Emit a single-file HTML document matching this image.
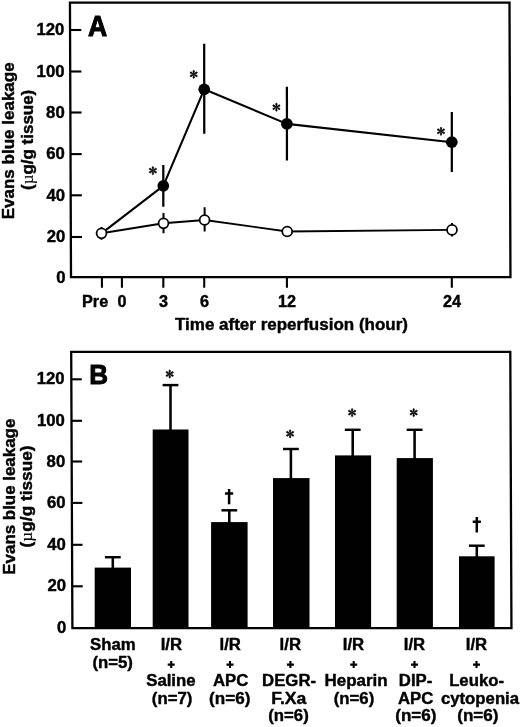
<!DOCTYPE html>
<html><head><meta charset="utf-8"><title>Figure</title>
<style>
html,body{margin:0;padding:0;background:#fff;}
body{width:520px;height:727px;overflow:hidden;font-family:"Liberation Sans",sans-serif;}
svg{display:block;will-change:transform;opacity:0.999;}
</style></head><body>
<svg width="520" height="727" viewBox="0 0 520 727">
<defs><filter id="soft" x="0" y="0" width="520" height="727" filterUnits="userSpaceOnUse"><feGaussianBlur stdDeviation="0.5"/></filter></defs>
<rect width="520" height="727" fill="#fff"/>
<g filter="url(#soft)">
<rect width="520" height="727" fill="#fff"/>
<path d="M71.0,277.1 L69.95,2.6 L509.5,2.6 L510.45,277.1 Z" fill="none" stroke="#000" stroke-width="2.3"/>
<line x1="70.84" x2="82.04" y1="237.00" y2="237.00" stroke="#000" stroke-width="2.1"/>
<line x1="70.68" x2="81.88" y1="195.30" y2="195.30" stroke="#000" stroke-width="2.1"/>
<line x1="70.53" x2="81.73" y1="154.10" y2="154.10" stroke="#000" stroke-width="2.1"/>
<line x1="70.37" x2="81.57" y1="112.50" y2="112.50" stroke="#000" stroke-width="2.1"/>
<line x1="70.21" x2="81.41" y1="71.50" y2="71.50" stroke="#000" stroke-width="2.1"/>
<line x1="70.05" x2="81.25" y1="30.00" y2="30.00" stroke="#000" stroke-width="2.1"/>
<text transform="translate(65.44,282.50) scale(1.02,1)" text-anchor="end" font-size="16.4" font-family="Liberation Sans, sans-serif" font-weight="bold" stroke="#000" stroke-width="0.42" stroke-linejoin="round">0</text>
<text transform="translate(65.25,242.30) scale(1.02,1)" text-anchor="end" font-size="16.4" font-family="Liberation Sans, sans-serif" font-weight="bold" stroke="#000" stroke-width="0.42" stroke-linejoin="round">20</text>
<text transform="translate(65.06,200.60) scale(1.02,1)" text-anchor="end" font-size="16.4" font-family="Liberation Sans, sans-serif" font-weight="bold" stroke="#000" stroke-width="0.42" stroke-linejoin="round">40</text>
<text transform="translate(64.87,159.40) scale(1.02,1)" text-anchor="end" font-size="16.4" font-family="Liberation Sans, sans-serif" font-weight="bold" stroke="#000" stroke-width="0.42" stroke-linejoin="round">60</text>
<text transform="translate(64.68,117.80) scale(1.02,1)" text-anchor="end" font-size="16.4" font-family="Liberation Sans, sans-serif" font-weight="bold" stroke="#000" stroke-width="0.42" stroke-linejoin="round">80</text>
<text transform="translate(64.49,76.80) scale(1.02,1)" text-anchor="end" font-size="16.4" font-family="Liberation Sans, sans-serif" font-weight="bold" stroke="#000" stroke-width="0.42" stroke-linejoin="round">100</text>
<text transform="translate(64.30,35.30) scale(1.02,1)" text-anchor="end" font-size="16.4" font-family="Liberation Sans, sans-serif" font-weight="bold" stroke="#000" stroke-width="0.42" stroke-linejoin="round">120</text>
<line x1="101.90" x2="101.94" y1="277.1" y2="287.8" stroke="#000" stroke-width="2.1"/>
<text transform="translate(95.1,306.5) scale(0.985,1)" text-anchor="middle" font-size="16.5" font-family="Liberation Sans, sans-serif" font-weight="bold" stroke="#000" stroke-width="0.42" stroke-linejoin="round">Pre</text>
<line x1="121.90" x2="121.94" y1="277.1" y2="287.8" stroke="#000" stroke-width="2.1"/>
<text transform="translate(122.10,306.5) scale(0.985,1)" text-anchor="middle" font-size="16.5" font-family="Liberation Sans, sans-serif" font-weight="bold" stroke="#000" stroke-width="0.42" stroke-linejoin="round">0</text>
<line x1="163.30" x2="163.34" y1="277.1" y2="287.8" stroke="#000" stroke-width="2.1"/>
<text transform="translate(163.50,306.5) scale(0.985,1)" text-anchor="middle" font-size="16.5" font-family="Liberation Sans, sans-serif" font-weight="bold" stroke="#000" stroke-width="0.42" stroke-linejoin="round">3</text>
<line x1="204.20" x2="204.24" y1="277.1" y2="287.8" stroke="#000" stroke-width="2.1"/>
<text transform="translate(204.40,306.5) scale(0.985,1)" text-anchor="middle" font-size="16.5" font-family="Liberation Sans, sans-serif" font-weight="bold" stroke="#000" stroke-width="0.42" stroke-linejoin="round">6</text>
<line x1="286.90" x2="286.94" y1="277.1" y2="287.8" stroke="#000" stroke-width="2.1"/>
<text transform="translate(287.10,306.5) scale(0.985,1)" text-anchor="middle" font-size="16.5" font-family="Liberation Sans, sans-serif" font-weight="bold" stroke="#000" stroke-width="0.42" stroke-linejoin="round">12</text>
<line x1="451.80" x2="451.84" y1="277.1" y2="287.8" stroke="#000" stroke-width="2.1"/>
<text transform="translate(452.00,306.5) scale(0.985,1)" text-anchor="middle" font-size="16.5" font-family="Liberation Sans, sans-serif" font-weight="bold" stroke="#000" stroke-width="0.42" stroke-linejoin="round">24</text>
<text x="291.5" y="329.9" text-anchor="middle" font-size="17" font-family="Liberation Sans, sans-serif" font-weight="bold" stroke="#000" stroke-width="0.42" stroke-linejoin="round">Time after reperfusion (hour)</text>
<text x="88.0" y="35.9" font-size="28.6" font-family="Liberation Sans, sans-serif" font-weight="bold" stroke="#000" stroke-width="1.0" stroke-linejoin="round" textLength="19.2" lengthAdjust="spacingAndGlyphs">A</text>
<text transform="translate(13.7,140.8) rotate(-90)" text-anchor="middle" font-size="17" font-family="Liberation Sans, sans-serif" font-weight="bold" stroke="#000" stroke-width="0.42" stroke-linejoin="round" textLength="157" lengthAdjust="spacingAndGlyphs">Evans blue leakage</text>
<text transform="translate(33.0,139.85) rotate(-90)" text-anchor="middle" font-size="17" font-family="Liberation Sans, sans-serif" font-weight="bold" stroke="#000" stroke-width="0.42" stroke-linejoin="round" textLength="100.1" lengthAdjust="spacingAndGlyphs">(<tspan font-weight="normal" font-family="Liberation Serif, serif" font-size="17" stroke-width="0.1">µ</tspan>g/g tissue)</text>
<line x1="163.30" x2="163.35" y1="164.9" y2="206.7" stroke="#000" stroke-width="2.25"/>
<line x1="204.20" x2="204.25" y1="43.8" y2="133.7" stroke="#000" stroke-width="2.25"/>
<line x1="286.90" x2="286.95" y1="86.8" y2="160.4" stroke="#000" stroke-width="2.25"/>
<line x1="451.80" x2="451.85" y1="111.9" y2="171.9" stroke="#000" stroke-width="2.25"/>
<line x1="101.50" x2="101.53" y1="227.0" y2="239.7" stroke="#000" stroke-width="2.0"/>
<line x1="163.50" x2="163.53" y1="213.1" y2="233.2" stroke="#000" stroke-width="2.0"/>
<line x1="204.60" x2="204.63" y1="207.2" y2="231.6" stroke="#000" stroke-width="2.0"/>
<line x1="452.00" x2="452.03" y1="223" y2="236.5" stroke="#000" stroke-width="2.0"/>
<polyline points="101.50,233.3 163.30,185.8 204.20,89.3 286.90,123.9 451.80,142.2" fill="none" stroke="#000" stroke-width="2.1" stroke-linejoin="round"/>
<polyline points="101.50,233.3 163.50,223.3 204.60,220 287.20,231.5 452.00,229.9" fill="none" stroke="#000" stroke-width="1.9" stroke-linejoin="round"/>
<circle cx="163.30" cy="185.8" r="5.85" fill="#000"/>
<circle cx="204.20" cy="89.3" r="5.85" fill="#000"/>
<circle cx="286.90" cy="123.9" r="5.85" fill="#000"/>
<circle cx="451.80" cy="142.2" r="5.85" fill="#000"/>
<circle cx="101.50" cy="233.3" r="4.95" fill="#fff" stroke="#000" stroke-width="1.75"/>
<circle cx="163.50" cy="223.3" r="4.95" fill="#fff" stroke="#000" stroke-width="1.75"/>
<circle cx="204.60" cy="220" r="4.95" fill="#fff" stroke="#000" stroke-width="1.75"/>
<circle cx="287.20" cy="231.5" r="4.95" fill="#fff" stroke="#000" stroke-width="1.75"/>
<circle cx="452.00" cy="229.9" r="4.95" fill="#fff" stroke="#000" stroke-width="1.75"/>
<g transform="translate(152.9,170.6)" fill="#000" stroke="#000" stroke-width="0.6" stroke-linejoin="round"><path d="M0,-0.3 L-0.55,-1.84 Q-1.25,-4.10 0,-4.10 Q1.25,-4.10 0.55,-1.84 Z" transform="rotate(0)"/><path d="M0,-0.3 L-0.55,-1.84 Q-1.25,-4.10 0,-4.10 Q1.25,-4.10 0.55,-1.84 Z" transform="rotate(60)"/><path d="M0,-0.3 L-0.55,-1.84 Q-1.25,-4.10 0,-4.10 Q1.25,-4.10 0.55,-1.84 Z" transform="rotate(120)"/><path d="M0,-0.3 L-0.55,-1.84 Q-1.25,-4.10 0,-4.10 Q1.25,-4.10 0.55,-1.84 Z" transform="rotate(180)"/><path d="M0,-0.3 L-0.55,-1.84 Q-1.25,-4.10 0,-4.10 Q1.25,-4.10 0.55,-1.84 Z" transform="rotate(240)"/><path d="M0,-0.3 L-0.55,-1.84 Q-1.25,-4.10 0,-4.10 Q1.25,-4.10 0.55,-1.84 Z" transform="rotate(300)"/></g>
<g transform="translate(193.7,74.3)" fill="#000" stroke="#000" stroke-width="0.6" stroke-linejoin="round"><path d="M0,-0.3 L-0.55,-1.84 Q-1.25,-4.10 0,-4.10 Q1.25,-4.10 0.55,-1.84 Z" transform="rotate(0)"/><path d="M0,-0.3 L-0.55,-1.84 Q-1.25,-4.10 0,-4.10 Q1.25,-4.10 0.55,-1.84 Z" transform="rotate(60)"/><path d="M0,-0.3 L-0.55,-1.84 Q-1.25,-4.10 0,-4.10 Q1.25,-4.10 0.55,-1.84 Z" transform="rotate(120)"/><path d="M0,-0.3 L-0.55,-1.84 Q-1.25,-4.10 0,-4.10 Q1.25,-4.10 0.55,-1.84 Z" transform="rotate(180)"/><path d="M0,-0.3 L-0.55,-1.84 Q-1.25,-4.10 0,-4.10 Q1.25,-4.10 0.55,-1.84 Z" transform="rotate(240)"/><path d="M0,-0.3 L-0.55,-1.84 Q-1.25,-4.10 0,-4.10 Q1.25,-4.10 0.55,-1.84 Z" transform="rotate(300)"/></g>
<g transform="translate(276.4,107.2)" fill="#000" stroke="#000" stroke-width="0.6" stroke-linejoin="round"><path d="M0,-0.3 L-0.55,-1.84 Q-1.25,-4.10 0,-4.10 Q1.25,-4.10 0.55,-1.84 Z" transform="rotate(0)"/><path d="M0,-0.3 L-0.55,-1.84 Q-1.25,-4.10 0,-4.10 Q1.25,-4.10 0.55,-1.84 Z" transform="rotate(60)"/><path d="M0,-0.3 L-0.55,-1.84 Q-1.25,-4.10 0,-4.10 Q1.25,-4.10 0.55,-1.84 Z" transform="rotate(120)"/><path d="M0,-0.3 L-0.55,-1.84 Q-1.25,-4.10 0,-4.10 Q1.25,-4.10 0.55,-1.84 Z" transform="rotate(180)"/><path d="M0,-0.3 L-0.55,-1.84 Q-1.25,-4.10 0,-4.10 Q1.25,-4.10 0.55,-1.84 Z" transform="rotate(240)"/><path d="M0,-0.3 L-0.55,-1.84 Q-1.25,-4.10 0,-4.10 Q1.25,-4.10 0.55,-1.84 Z" transform="rotate(300)"/></g>
<g transform="translate(441,131.3)" fill="#000" stroke="#000" stroke-width="0.6" stroke-linejoin="round"><path d="M0,-0.3 L-0.55,-1.84 Q-1.25,-4.10 0,-4.10 Q1.25,-4.10 0.55,-1.84 Z" transform="rotate(0)"/><path d="M0,-0.3 L-0.55,-1.84 Q-1.25,-4.10 0,-4.10 Q1.25,-4.10 0.55,-1.84 Z" transform="rotate(60)"/><path d="M0,-0.3 L-0.55,-1.84 Q-1.25,-4.10 0,-4.10 Q1.25,-4.10 0.55,-1.84 Z" transform="rotate(120)"/><path d="M0,-0.3 L-0.55,-1.84 Q-1.25,-4.10 0,-4.10 Q1.25,-4.10 0.55,-1.84 Z" transform="rotate(180)"/><path d="M0,-0.3 L-0.55,-1.84 Q-1.25,-4.10 0,-4.10 Q1.25,-4.10 0.55,-1.84 Z" transform="rotate(240)"/><path d="M0,-0.3 L-0.55,-1.84 Q-1.25,-4.10 0,-4.10 Q1.25,-4.10 0.55,-1.84 Z" transform="rotate(300)"/></g>
<path d="M72.4,628.2 L71.2,351.8 L510.3,351.8 L511.45,628.2 Z" fill="none" stroke="#000" stroke-width="2.3"/>
<line x1="72.21" x2="82.71" y1="586.30" y2="586.30" stroke="#000" stroke-width="2.1"/>
<line x1="72.03" x2="82.53" y1="544.80" y2="544.80" stroke="#000" stroke-width="2.1"/>
<line x1="71.85" x2="82.35" y1="502.90" y2="502.90" stroke="#000" stroke-width="2.1"/>
<line x1="71.67" x2="82.17" y1="461.50" y2="461.50" stroke="#000" stroke-width="2.1"/>
<line x1="71.50" x2="82.00" y1="420.80" y2="420.80" stroke="#000" stroke-width="2.1"/>
<line x1="71.32" x2="81.82" y1="379.30" y2="379.30" stroke="#000" stroke-width="2.1"/>
<text transform="translate(66.39,633.30) scale(1.02,1)" text-anchor="end" font-size="16.4" font-family="Liberation Sans, sans-serif" font-weight="bold" stroke="#000" stroke-width="0.42" stroke-linejoin="round">0</text>
<text transform="translate(66.09,591.40) scale(1.02,1)" text-anchor="end" font-size="16.4" font-family="Liberation Sans, sans-serif" font-weight="bold" stroke="#000" stroke-width="0.42" stroke-linejoin="round">20</text>
<text transform="translate(65.79,549.90) scale(1.02,1)" text-anchor="end" font-size="16.4" font-family="Liberation Sans, sans-serif" font-weight="bold" stroke="#000" stroke-width="0.42" stroke-linejoin="round">40</text>
<text transform="translate(65.48,508.00) scale(1.02,1)" text-anchor="end" font-size="16.4" font-family="Liberation Sans, sans-serif" font-weight="bold" stroke="#000" stroke-width="0.42" stroke-linejoin="round">60</text>
<text transform="translate(65.19,466.60) scale(1.02,1)" text-anchor="end" font-size="16.4" font-family="Liberation Sans, sans-serif" font-weight="bold" stroke="#000" stroke-width="0.42" stroke-linejoin="round">80</text>
<text transform="translate(64.89,425.90) scale(1.02,1)" text-anchor="end" font-size="16.4" font-family="Liberation Sans, sans-serif" font-weight="bold" stroke="#000" stroke-width="0.42" stroke-linejoin="round">100</text>
<text transform="translate(64.59,384.40) scale(1.02,1)" text-anchor="end" font-size="16.4" font-family="Liberation Sans, sans-serif" font-weight="bold" stroke="#000" stroke-width="0.42" stroke-linejoin="round">120</text>
<text x="89.3" y="384.1" font-size="28.2" font-family="Liberation Sans, sans-serif" font-weight="bold" stroke="#000" stroke-width="1.0" stroke-linejoin="round" textLength="18.8" lengthAdjust="spacingAndGlyphs">B</text>
<text transform="translate(14.9,496.7) rotate(-90)" text-anchor="middle" font-size="17" font-family="Liberation Sans, sans-serif" font-weight="bold" stroke="#000" stroke-width="0.42" stroke-linejoin="round" textLength="156" lengthAdjust="spacingAndGlyphs">Evans blue leakage</text>
<text transform="translate(32.1,496.4) rotate(-90)" text-anchor="middle" font-size="17" font-family="Liberation Sans, sans-serif" font-weight="bold" stroke="#000" stroke-width="0.42" stroke-linejoin="round" textLength="102" lengthAdjust="spacingAndGlyphs">(<tspan font-weight="normal" font-family="Liberation Serif, serif" font-size="17" stroke-width="0.1">µ</tspan>g/g tissue)</text>
<rect x="94.7" y="567.6" width="36.3" height="60.6" fill="#000"/>
<line x1="112.8" x2="112.8" y1="557.2" y2="568.6" stroke="#000" stroke-width="2.55"/>
<line x1="104.89999999999999" x2="120.7" y1="557.2" y2="557.2" stroke="#000" stroke-width="2.45"/>
<rect x="152.7" y="429.5" width="35.8" height="198.7" fill="#000"/>
<line x1="170.5" x2="170.5" y1="385.1" y2="430.5" stroke="#000" stroke-width="2.55"/>
<line x1="162.6" x2="178.4" y1="385.1" y2="385.1" stroke="#000" stroke-width="2.45"/>
<g transform="translate(169.7,374.0)" fill="#000" stroke="#000" stroke-width="0.6" stroke-linejoin="round"><path d="M0,-0.3 L-0.55,-1.84 Q-1.25,-4.10 0,-4.10 Q1.25,-4.10 0.55,-1.84 Z" transform="rotate(0)"/><path d="M0,-0.3 L-0.55,-1.84 Q-1.25,-4.10 0,-4.10 Q1.25,-4.10 0.55,-1.84 Z" transform="rotate(60)"/><path d="M0,-0.3 L-0.55,-1.84 Q-1.25,-4.10 0,-4.10 Q1.25,-4.10 0.55,-1.84 Z" transform="rotate(120)"/><path d="M0,-0.3 L-0.55,-1.84 Q-1.25,-4.10 0,-4.10 Q1.25,-4.10 0.55,-1.84 Z" transform="rotate(180)"/><path d="M0,-0.3 L-0.55,-1.84 Q-1.25,-4.10 0,-4.10 Q1.25,-4.10 0.55,-1.84 Z" transform="rotate(240)"/><path d="M0,-0.3 L-0.55,-1.84 Q-1.25,-4.10 0,-4.10 Q1.25,-4.10 0.55,-1.84 Z" transform="rotate(300)"/></g>
<rect x="211.1" y="522.1" width="36.5" height="106.1" fill="#000"/>
<line x1="229.3" x2="229.3" y1="510.3" y2="523.1" stroke="#000" stroke-width="2.55"/>
<line x1="221.4" x2="237.20000000000002" y1="510.3" y2="510.3" stroke="#000" stroke-width="2.45"/>
<path d="M229.1,488.9 V504.29999999999995 M225.0,493.5 H233.2" stroke="#000" stroke-width="2.5" fill="none"/>
<rect x="273" y="478.1" width="36.5" height="150.1" fill="#000"/>
<line x1="290.9" x2="290.9" y1="449" y2="479.1" stroke="#000" stroke-width="2.55"/>
<line x1="283.0" x2="298.79999999999995" y1="449" y2="449" stroke="#000" stroke-width="2.45"/>
<g transform="translate(290.1,433.8)" fill="#000" stroke="#000" stroke-width="0.6" stroke-linejoin="round"><path d="M0,-0.3 L-0.55,-1.84 Q-1.25,-4.10 0,-4.10 Q1.25,-4.10 0.55,-1.84 Z" transform="rotate(0)"/><path d="M0,-0.3 L-0.55,-1.84 Q-1.25,-4.10 0,-4.10 Q1.25,-4.10 0.55,-1.84 Z" transform="rotate(60)"/><path d="M0,-0.3 L-0.55,-1.84 Q-1.25,-4.10 0,-4.10 Q1.25,-4.10 0.55,-1.84 Z" transform="rotate(120)"/><path d="M0,-0.3 L-0.55,-1.84 Q-1.25,-4.10 0,-4.10 Q1.25,-4.10 0.55,-1.84 Z" transform="rotate(180)"/><path d="M0,-0.3 L-0.55,-1.84 Q-1.25,-4.10 0,-4.10 Q1.25,-4.10 0.55,-1.84 Z" transform="rotate(240)"/><path d="M0,-0.3 L-0.55,-1.84 Q-1.25,-4.10 0,-4.10 Q1.25,-4.10 0.55,-1.84 Z" transform="rotate(300)"/></g>
<rect x="335" y="455.4" width="36.1" height="172.8" fill="#000"/>
<line x1="352.7" x2="352.7" y1="429.8" y2="456.4" stroke="#000" stroke-width="2.55"/>
<line x1="344.8" x2="360.59999999999997" y1="429.8" y2="429.8" stroke="#000" stroke-width="2.45"/>
<g transform="translate(352.1,412.6)" fill="#000" stroke="#000" stroke-width="0.6" stroke-linejoin="round"><path d="M0,-0.3 L-0.55,-1.84 Q-1.25,-4.10 0,-4.10 Q1.25,-4.10 0.55,-1.84 Z" transform="rotate(0)"/><path d="M0,-0.3 L-0.55,-1.84 Q-1.25,-4.10 0,-4.10 Q1.25,-4.10 0.55,-1.84 Z" transform="rotate(60)"/><path d="M0,-0.3 L-0.55,-1.84 Q-1.25,-4.10 0,-4.10 Q1.25,-4.10 0.55,-1.84 Z" transform="rotate(120)"/><path d="M0,-0.3 L-0.55,-1.84 Q-1.25,-4.10 0,-4.10 Q1.25,-4.10 0.55,-1.84 Z" transform="rotate(180)"/><path d="M0,-0.3 L-0.55,-1.84 Q-1.25,-4.10 0,-4.10 Q1.25,-4.10 0.55,-1.84 Z" transform="rotate(240)"/><path d="M0,-0.3 L-0.55,-1.84 Q-1.25,-4.10 0,-4.10 Q1.25,-4.10 0.55,-1.84 Z" transform="rotate(300)"/></g>
<rect x="396.7" y="458.1" width="36.2" height="170.1" fill="#000"/>
<line x1="414.6" x2="414.6" y1="429.8" y2="459.1" stroke="#000" stroke-width="2.55"/>
<line x1="406.70000000000005" x2="422.5" y1="429.8" y2="429.8" stroke="#000" stroke-width="2.45"/>
<g transform="translate(413.7,412.6)" fill="#000" stroke="#000" stroke-width="0.6" stroke-linejoin="round"><path d="M0,-0.3 L-0.55,-1.84 Q-1.25,-4.10 0,-4.10 Q1.25,-4.10 0.55,-1.84 Z" transform="rotate(0)"/><path d="M0,-0.3 L-0.55,-1.84 Q-1.25,-4.10 0,-4.10 Q1.25,-4.10 0.55,-1.84 Z" transform="rotate(60)"/><path d="M0,-0.3 L-0.55,-1.84 Q-1.25,-4.10 0,-4.10 Q1.25,-4.10 0.55,-1.84 Z" transform="rotate(120)"/><path d="M0,-0.3 L-0.55,-1.84 Q-1.25,-4.10 0,-4.10 Q1.25,-4.10 0.55,-1.84 Z" transform="rotate(180)"/><path d="M0,-0.3 L-0.55,-1.84 Q-1.25,-4.10 0,-4.10 Q1.25,-4.10 0.55,-1.84 Z" transform="rotate(240)"/><path d="M0,-0.3 L-0.55,-1.84 Q-1.25,-4.10 0,-4.10 Q1.25,-4.10 0.55,-1.84 Z" transform="rotate(300)"/></g>
<rect x="459" y="556.3" width="35.6" height="71.9" fill="#000"/>
<line x1="476.8" x2="476.8" y1="545.7" y2="557.3" stroke="#000" stroke-width="2.55"/>
<line x1="468.90000000000003" x2="484.7" y1="545.7" y2="545.7" stroke="#000" stroke-width="2.45"/>
<path d="M476.8,517.1 V532.5 M472.7,521.7 H480.90000000000003" stroke="#000" stroke-width="2.5" fill="none"/>
<text x="112.9" y="650.1" text-anchor="middle" font-size="16.75" font-family="Liberation Sans, sans-serif" font-weight="bold" stroke="#000" stroke-width="0.42" stroke-linejoin="round">Sham</text>
<text x="112.7" y="668.3" text-anchor="middle" font-size="16.75" font-family="Liberation Sans, sans-serif" font-weight="bold" stroke="#000" stroke-width="0.42" stroke-linejoin="round">(n=5)</text>
<text x="171.4" y="650.1" text-anchor="middle" font-size="16.75" font-family="Liberation Sans, sans-serif" font-weight="bold" stroke="#000" stroke-width="0.42" stroke-linejoin="round">I/R</text>
<path d="M167.7,664.6 H174.7 M171.2,661.1 V668.1" stroke="#000" stroke-width="2.1" fill="none"/>
<text x="170.9" y="685.7" text-anchor="middle" font-size="16.75" font-family="Liberation Sans, sans-serif" font-weight="bold" stroke="#000" stroke-width="0.42" stroke-linejoin="round">Saline</text>
<text x="172.1" y="704.0" text-anchor="middle" font-size="16.75" font-family="Liberation Sans, sans-serif" font-weight="bold" stroke="#000" stroke-width="0.42" stroke-linejoin="round">(n=7)</text>
<text x="230.2" y="650.1" text-anchor="middle" font-size="16.75" font-family="Liberation Sans, sans-serif" font-weight="bold" stroke="#000" stroke-width="0.42" stroke-linejoin="round">I/R</text>
<path d="M226.5,664.6 H233.5 M230,661.1 V668.1" stroke="#000" stroke-width="2.1" fill="none"/>
<text x="230.6" y="685.7" text-anchor="middle" font-size="16.75" font-family="Liberation Sans, sans-serif" font-weight="bold" stroke="#000" stroke-width="0.42" stroke-linejoin="round">APC</text>
<text x="229.7" y="704.0" text-anchor="middle" font-size="16.75" font-family="Liberation Sans, sans-serif" font-weight="bold" stroke="#000" stroke-width="0.42" stroke-linejoin="round" textLength="41.3" lengthAdjust="spacingAndGlyphs">(n=6)</text>
<text x="290.3" y="650.1" text-anchor="middle" font-size="16.75" font-family="Liberation Sans, sans-serif" font-weight="bold" stroke="#000" stroke-width="0.42" stroke-linejoin="round">I/R</text>
<path d="M286.9,664.6 H293.9 M290.4,661.1 V668.1" stroke="#000" stroke-width="2.1" fill="none"/>
<text x="289.1" y="685.7" text-anchor="middle" font-size="16.75" font-family="Liberation Sans, sans-serif" font-weight="bold" stroke="#000" stroke-width="0.42" stroke-linejoin="round">DEGR-</text>
<text x="288.8" y="704.0" text-anchor="middle" font-size="16.75" font-family="Liberation Sans, sans-serif" font-weight="bold" stroke="#000" stroke-width="0.42" stroke-linejoin="round" textLength="35.2" lengthAdjust="spacingAndGlyphs">F.Xa</text>
<text x="288.5" y="721.3" text-anchor="middle" font-size="16.75" font-family="Liberation Sans, sans-serif" font-weight="bold" stroke="#000" stroke-width="0.42" stroke-linejoin="round">(n=6)</text>
<text x="353.5" y="650.1" text-anchor="middle" font-size="16.75" font-family="Liberation Sans, sans-serif" font-weight="bold" stroke="#000" stroke-width="0.42" stroke-linejoin="round">I/R</text>
<path d="M350.2,664.6 H357.2 M353.7,661.1 V668.1" stroke="#000" stroke-width="2.1" fill="none"/>
<text x="356.1" y="685.7" text-anchor="middle" font-size="16.75" font-family="Liberation Sans, sans-serif" font-weight="bold" stroke="#000" stroke-width="0.42" stroke-linejoin="round" textLength="63.2" lengthAdjust="spacingAndGlyphs">Heparin</text>
<text x="354" y="704.0" text-anchor="middle" font-size="16.75" font-family="Liberation Sans, sans-serif" font-weight="bold" stroke="#000" stroke-width="0.42" stroke-linejoin="round">(n=6)</text>
<text x="414.5" y="650.1" text-anchor="middle" font-size="16.75" font-family="Liberation Sans, sans-serif" font-weight="bold" stroke="#000" stroke-width="0.42" stroke-linejoin="round">I/R</text>
<path d="M411.0,664.6 H418.0 M414.5,661.1 V668.1" stroke="#000" stroke-width="2.1" fill="none"/>
<text x="415.6" y="685.7" text-anchor="middle" font-size="16.75" font-family="Liberation Sans, sans-serif" font-weight="bold" stroke="#000" stroke-width="0.42" stroke-linejoin="round">DIP-</text>
<text x="415.6" y="704.0" text-anchor="middle" font-size="16.75" font-family="Liberation Sans, sans-serif" font-weight="bold" stroke="#000" stroke-width="0.42" stroke-linejoin="round">APC</text>
<text x="415.9" y="721.3" text-anchor="middle" font-size="16.75" font-family="Liberation Sans, sans-serif" font-weight="bold" stroke="#000" stroke-width="0.42" stroke-linejoin="round" textLength="41.3" lengthAdjust="spacingAndGlyphs">(n=6)</text>
<text x="476.5" y="650.1" text-anchor="middle" font-size="16.75" font-family="Liberation Sans, sans-serif" font-weight="bold" stroke="#000" stroke-width="0.42" stroke-linejoin="round">I/R</text>
<path d="M473.0,664.6 H480.0 M476.5,661.1 V668.1" stroke="#000" stroke-width="2.1" fill="none"/>
<text x="476.6" y="685.7" text-anchor="middle" font-size="16.75" font-family="Liberation Sans, sans-serif" font-weight="bold" stroke="#000" stroke-width="0.42" stroke-linejoin="round">Leuko-</text>
<text x="480" y="704.0" text-anchor="middle" font-size="16.75" font-family="Liberation Sans, sans-serif" font-weight="bold" stroke="#000" stroke-width="0.42" stroke-linejoin="round">cytopenia</text>
<text x="477.9" y="721.3" text-anchor="middle" font-size="16.75" font-family="Liberation Sans, sans-serif" font-weight="bold" stroke="#000" stroke-width="0.42" stroke-linejoin="round" textLength="41.3" lengthAdjust="spacingAndGlyphs">(n=6)</text>
</g>
</svg>
</body></html>
